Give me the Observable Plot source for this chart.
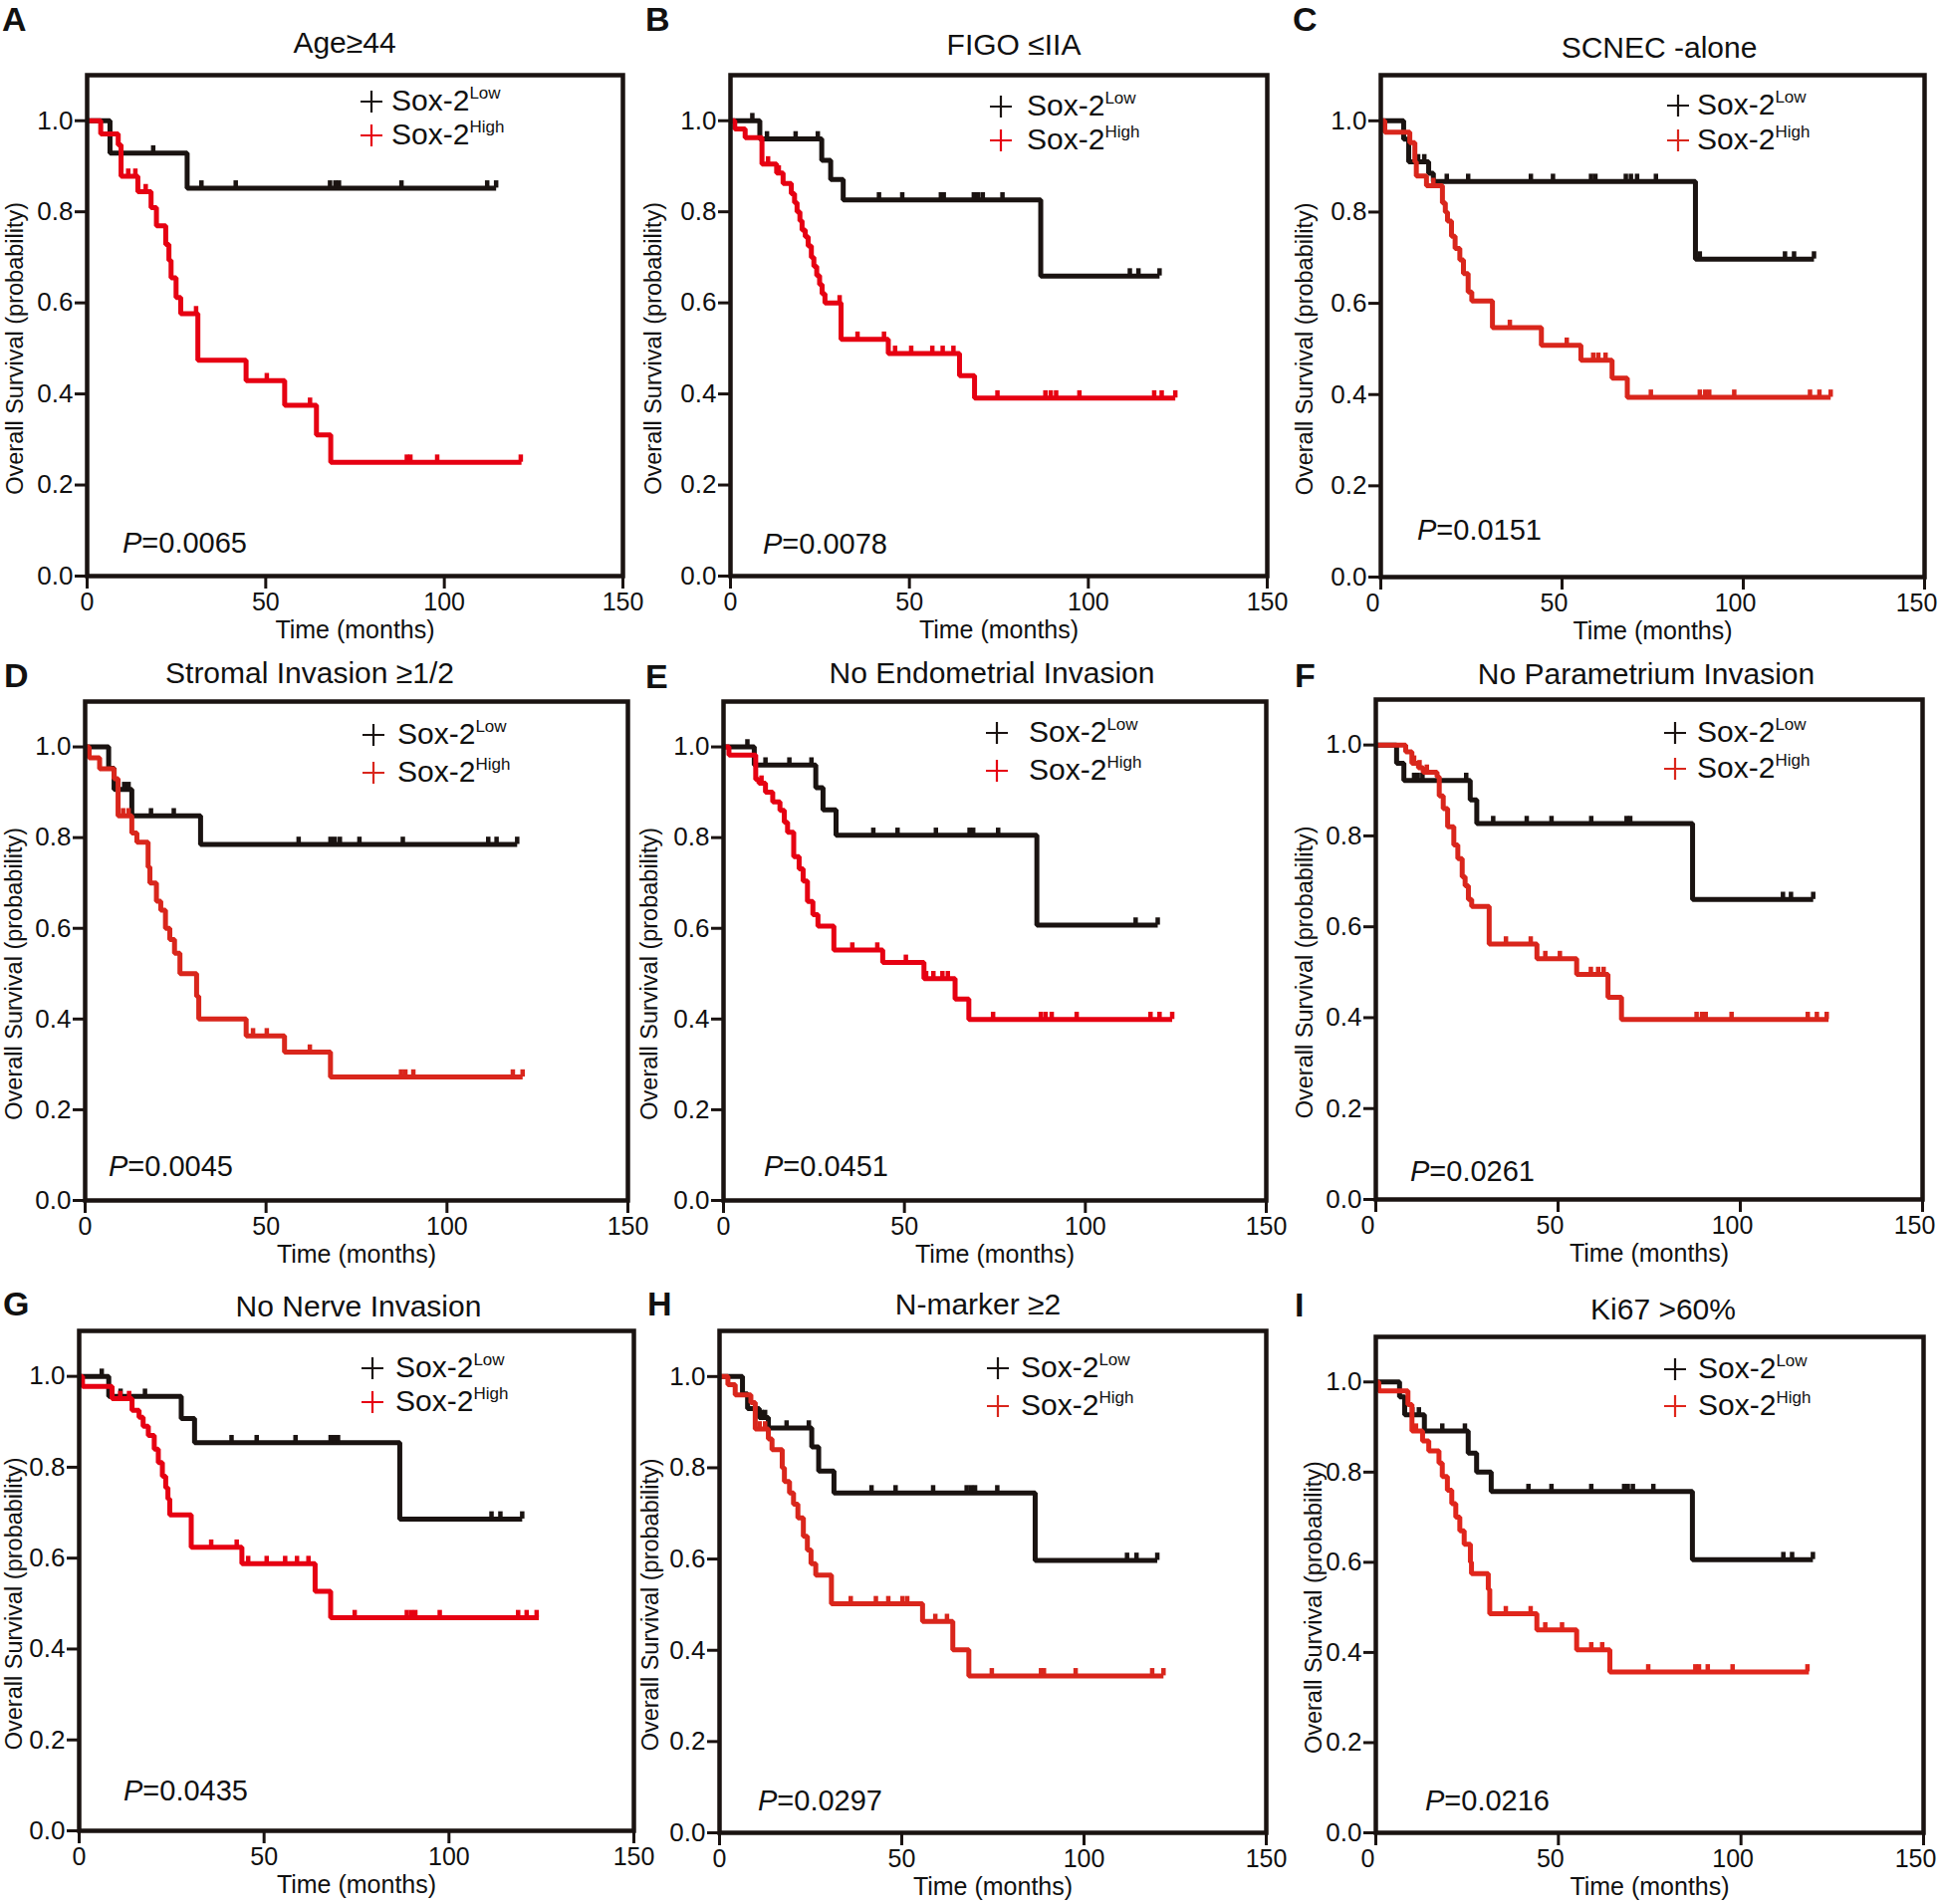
<!DOCTYPE html>
<html><head><meta charset="utf-8">
<script src="https://cdn.jsdelivr.net/npm/d3@7"></script>
<script src="https://cdn.jsdelivr.net/npm/@observablehq/plot@0.6"></script>
<style>
body{margin:0;background:#fff;}
#page{position:relative;width:1946px;height:1912px;background:#fff;overflow:hidden;font-family:"Liberation Sans",Arial,sans-serif;}
</style></head><body><div id="page"></div>
<script>
// ---------- DATA ----------
const panelLetters = ["A","B","C","D","E","F","G","H","I"];
const panelTitles = ["Age\u226544","FIGO \u2264IIA","SCNEC -alone","Stromal Invasion \u22651/2","No Endometrial Invasion","No Parametrium Invasion","No Nerve Invasion","N-marker \u22652","Ki67 >60%"];
const pValues = ["0.0065","0.0078","0.0151","0.0045","0.0451","0.0261","0.0435","0.0297","0.0216"];
const groupNames = ["Low","High"];
const xTicks = [0,50,100,150];
const yTicks = [0,0.2,0.4,0.6,0.8,1.0];
const xLabel = "Time (months)";
const yLabel = "Overall Survival (probability)";

// survival steps [time, survival after step]; censor times
const lowA = [[0,1],[6.4,0.929],[28,0.852],[114.5,0.852]];
const lowA_c = [18.5,32,41.6,68,69.5,70.5,88,112,114.5];
const highA = [[0,1],[3.8,0.971],[8.7,0.947],[9.5,0.878],[14.2,0.844],[17.9,0.809],[19.4,0.769],[22,0.728],[22.9,0.693],[23.5,0.655],[24.9,0.612],[26.2,0.576],[31,0.474],[44.5,0.429],[55.3,0.375],[64.2,0.31],[68.2,0.25],[121.6,0.25]];
const highA_c = [11.5,13.5,16.4,30.5,50.3,62.4,89.5,90.5,98,121.4];

const lowB = [[0,1],[8.2,0.96],[25.5,0.913],[28,0.871],[31.5,0.826],[86.7,0.659],[119.9,0.659]];
const lowB_c = [6.1,10.2,18.2,24.4,41.5,48,58.8,59.6,68,69.2,70.5,76,111.6,114,119.9];
const highB = [[0,1],[1.2,0.982],[4.1,0.963],[8.8,0.905],[12.9,0.885],[14.7,0.862],[17,0.84],[17.9,0.82],[18.6,0.8],[19.4,0.78],[20,0.76],[20.9,0.745],[21.7,0.725],[22.6,0.7],[23.3,0.68],[24.1,0.66],[24.9,0.64],[25.6,0.62],[26.4,0.6],[30.9,0.52],[44.1,0.489],[64,0.44],[68.2,0.391],[124.3,0.391]];
const highB_c = [10.5,13.5,30.5,35.5,42.9,46,50.5,56.4,59.3,62.3,74.6,88,89.5,91,97.5,118.4,120.5,124.3];

const lowC = [[0,1],[6.3,0.96],[7.7,0.91],[13.2,0.885],[14.5,0.867],[86.8,0.697],[119.5,0.697]];
const lowC_c = [10.3,12,18.2,24.1,41.4,47.5,58,59.2,67.6,69,70.7,75.9,88,111.5,114,119.5];
const highC = [[0,1],[1.1,0.975],[8,0.952],[9.4,0.91],[9.8,0.879],[12.6,0.858],[17,0.82],[17.8,0.8],[18.4,0.78],[19.5,0.747],[20.5,0.72],[21.8,0.695],[22.8,0.665],[24.1,0.625],[25.1,0.605],[30.8,0.547],[44.3,0.508],[55.2,0.475],[63.8,0.436],[68,0.394],[124.1,0.394]];
const highC_c = [14.5,35.6,51.3,58.6,60,62,74.5,88,89.5,90.6,97.5,118.4,121,124.1];

const lowD = [[0,1],[6.5,0.953],[8,0.906],[12.9,0.848],[31.9,0.785],[119.4,0.785]];
const lowD_c = [10.8,12,18.2,24.5,59,67.8,69,70.4,75.8,87.8,111.4,113.7,119.4];
const highD = [[0,1],[1.1,0.976],[4,0.952],[8,0.93],[9.1,0.848],[12.9,0.81],[14.3,0.79],[17.4,0.735],[17.9,0.7],[19.7,0.66],[20.9,0.64],[22.2,0.6],[23.4,0.575],[24.7,0.545],[26.2,0.5],[30.8,0.45],[31.4,0.4],[44.5,0.363],[55.1,0.327],[67.8,0.272],[120.9,0.272]];
const highD_c = [10.5,12,46.4,50.2,62.1,87.3,88.5,90.7,118.2,120.9];

const lowE = [[0,1],[8.5,0.96],[25.5,0.91],[27.5,0.861],[31.1,0.805],[86.6,0.607],[120,0.607]];
const lowE_c = [6.6,11.6,18.2,24.3,41.4,48.1,58.7,68,69,75.9,113.9,120];
const highE = [[0,1],[1.5,0.982],[8.9,0.928],[9.8,0.92],[11.6,0.9],[13.6,0.879],[15.6,0.86],[16.8,0.834],[17.7,0.812],[19.4,0.758],[20.9,0.731],[22,0.704],[23.2,0.659],[24.7,0.63],[26.1,0.605],[30.5,0.552],[44,0.525],[55.4,0.489],[64,0.444],[67.8,0.399],[124,0.399]];
const highE_c = [10.5,35.6,42.5,50.4,56,58,60.5,62,74.5,87.7,89,90.7,97.6,118,120.5,124];

const lowF = [[0,1],[5.7,0.96],[7.7,0.922],[25.9,0.879],[27.7,0.827],[86.9,0.66],[120,0.66]];
const lowF_c = [10.5,11.5,12.8,24.8,32.2,41.4,48.2,59.1,68.8,69.8,111.7,113.9,120];
const highF = [[0,1],[8.2,0.985],[9.9,0.96],[11.7,0.95],[13,0.94],[16.8,0.93],[17.4,0.888],[18.5,0.86],[19.7,0.82],[21.4,0.78],[22.5,0.75],[23.7,0.71],[24.5,0.69],[25.4,0.66],[26.3,0.645],[31.1,0.562],[44.2,0.53],[55.1,0.495],[63.7,0.445],[67.4,0.396],[124.2,0.396]];
const highF_c = [10.5,12,14,35.7,42.5,46.5,50.5,59,61,62.5,88,89.5,90.5,97.6,118.5,121,123.7];

const lowG = [[0,1],[8,0.956],[27.6,0.907],[31.2,0.854],[86.7,0.686],[119.8,0.686]];
const lowG_c = [6.1,11.2,17.8,41.2,48,58.5,68,69,70,111.5,113.9,119.8];
const highG = [[0,1],[0.9,0.978],[8.9,0.951],[14.3,0.925],[16.2,0.91],[17.3,0.89],[18.7,0.87],[20.3,0.84],[21.4,0.81],[22.5,0.78],[23.4,0.755],[24,0.73],[24.5,0.695],[30.3,0.624],[44,0.588],[63.8,0.527],[68,0.469],[124.3,0.469]];
const highG_c = [11.1,13.5,35.7,42.6,45.7,50.7,55.7,58.9,62,74.5,88.6,89.8,90.9,97.5,118.7,121,123.7];

const lowH = [[0,1],[6.3,0.962],[7.7,0.93],[10.9,0.91],[13.4,0.887],[25.3,0.846],[27.2,0.793],[31.4,0.745],[86.6,0.597],[120.1,0.597]];
const lowH_c = [11.5,12.5,18.4,24.5,41.7,48.3,58.6,67.8,69,70.1,76.2,111.8,114.4,120.1];
const highH = [[0,1],[2.3,0.982],[4.3,0.96],[8.6,0.943],[9.8,0.885],[13.4,0.863],[14.4,0.84],[17.2,0.8],[17.8,0.77],[19.2,0.745],[20.3,0.72],[21.5,0.69],[23,0.65],[24.1,0.62],[25.1,0.59],[26.4,0.565],[30.7,0.502],[55.7,0.463],[64,0.401],[68.4,0.344],[121.8,0.344]];
const highH_c = [11,12.5,36,42.9,46.3,50.2,51.5,59.2,62.4,74.7,88.2,89,97.7,118.7,121.8];

const lowI = [[0,1],[6.5,0.967],[7.9,0.927],[13.3,0.891],[25.3,0.842],[27.6,0.8],[31.6,0.757],[86.7,0.606],[119.7,0.606]];
const lowI_c = [10,11.8,18.2,24.4,41.8,48.1,59,68,69,70.4,76,111.6,114,119.7];
const highI = [[0,1],[0.8,0.98],[8.8,0.95],[9.9,0.891],[12.8,0.869],[14.5,0.847],[17.3,0.82],[18.2,0.79],[19.6,0.76],[20.8,0.73],[21.9,0.7],[23,0.67],[24.2,0.64],[25.9,0.6],[26.2,0.575],[30.8,0.54],[31.2,0.486],[44.1,0.45],[55,0.406],[64.1,0.357],[118.6,0.357]];
const highI_c = [11,35.6,42.4,46.4,51,59,62,74.6,87.5,88.5,90.9,97.7,118.2];

const lowCurves = [lowA,lowB,lowC,lowD,lowE,lowF,lowG,lowH,lowI];
const lowCensors = [lowA_c,lowB_c,lowC_c,lowD_c,lowE_c,lowF_c,lowG_c,lowH_c,lowI_c];
const highCurves = [highA,highB,highC,highD,highE,highF,highG,highH,highI];
const highCensors = [highA_c,highB_c,highC_c,highD_c,highE_c,highF_c,highG_c,highH_c,highI_c];

// ---------- LAYOUT / STYLE ----------
const frames = [[87,75,625,578],[733,75,1272,578],[1386,75,1932,579],[85,704,630,1205],[726,704,1271,1205],[1381,702,1930,1204],[79,1336,636,1838],[722,1336,1271,1840],[1381,1342,1931,1840]];
const yLabelDist = [72,77,76,71,74,71,65,69,62];
const xTickShift = [0,0,-8,0,0,-8,0,0,-8];
const legendPos = [[286,306,36,70],[272,298,41,75],[299,318,40,75],[290,314,43,81],[275,307,41,79],[301,323,43,79],[295,318,47,81],[280,303,47,85],[301,324,42,79]];
const pPos = [[36,-23],[33,-22],[37,-37],[24,-24],[41,-24],[35,-18],[45,-30],[39,-22],[50,-22]];
const titlePos = [[346,53],[1018,55],[1666,58],[311,686],[996,686],[1653,687],[360,1322],[982,1320],[1670,1325]];
const letterPos = [[2,31],[648,31],[1298,31],[4,690],[648,691],[1300,690],[3,1321],[650,1321],[1300,1322]];
const redColors = ["#e60012","#e60012","#d9261c","#d9261c","#e60012","#d9261c","#e60012","#d9261c","#e0261c"];
const black = "#1a1311";
const FONT = "'Liberation Sans', Arial, sans-serif";

function stepAt(steps, t) {
  let v = steps[0][1];
  for (const [x, y] of steps) { if (x <= t) v = y; else break; }
  return v;
}

const page = document.getElementById("page");
const mL = 100, mR = 30, mT = 8, mB = 74;
const yMid = (yTicks[0] + yTicks[yTicks.length - 1]) / 2;

panelLetters.forEach((letter, i) => {
  const [L, T, R, B] = frames[i];
  const red = redColors[i];
  const low = lowCurves[i].map(([t, s]) => ({t, s}));
  const high = highCurves[i].map(([t, s]) => ({t, s}));
  const lowC = lowCensors[i].map(t => ({t, s: stepAt(lowCurves[i], t)}));
  const highC = highCensors[i].map(t => ({t, s: stepAt(highCurves[i], t)}));
  const plot = Plot.plot({
    width: R - L + mL + mR,
    height: B - T + mT + mB,
    marginLeft: mL, marginRight: mR, marginTop: mT, marginBottom: mB,
    style: {fontFamily: FONT, fontSize: "25px", background: "transparent", color: "#111", overflow: "visible"},
    x: {domain: [0, 150]},
    y: {domain: [0, 1.1]},
    marks: [
      Plot.line(low, {x: "t", y: "s", curve: "step-after", stroke: black, strokeWidth: 5, strokeLinejoin: "miter", strokeLinecap: "butt"}),
      Plot.ruleX(lowC, {x: "t", y1: d => d.s, y2: d => d.s + 0.016, stroke: black, strokeWidth: 4.5}),
      Plot.line(high, {x: "t", y: "s", curve: "step-after", stroke: red, strokeWidth: 5, strokeLinejoin: "miter", strokeLinecap: "butt"}),
      Plot.ruleX(highC, {x: "t", y1: d => d.s, y2: d => d.s + 0.016, stroke: red, strokeWidth: 4.5}),
      Plot.frame({stroke: black, strokeWidth: 4.5}),
      // tick marks only
      Plot.axisX({ticks: xTicks, tickSize: 13, strokeWidth: 3, stroke: black, tickFormat: () => "", label: null}),
      // tick labels + axis label
      Plot.axisX({ticks: xTicks, tickSize: 0, tickPadding: 17, fontSize: 25, dx: xTickShift[i],
        label: xLabel, labelAnchor: "center", labelArrow: "none", labelOffset: 62}),
      Plot.axisY({ticks: yTicks, tickFormat: d => d.toFixed(1), tickSize: 12, strokeWidth: 3, stroke: black, tickPadding: 2, fontSize: 26, label: null}),
      Plot.text([{label: yLabel, y: yMid}], {text: "label", y: "y", frameAnchor: "left", dx: -yLabelDist[i], rotate: -90,
        textAnchor: "middle", lineAnchor: "middle", fontSize: 23.5, fill: "#111"})
    ]
  });
  plot.style.position = "absolute";
  plot.style.left = (L - mL) + "px";
  plot.style.top = (T - mT) + "px";
  page.appendChild(plot);
});

// ---------- text overlay (titles, letters, legends, P values) ----------
const svg = d3.select(page).append("svg")
  .attr("width", 1946).attr("height", 1912)
  .style("position", "absolute").style("left", "0px").style("top", "0px")
  .style("pointer-events", "none")
  .attr("font-family", FONT).attr("fill", "#111");

panelLetters.forEach((letter, i) => {
  const [L, T, R, B] = frames[i];
  const red = redColors[i];
  svg.append("text").attr("x", letterPos[i][0]).attr("y", letterPos[i][1])
    .attr("font-size", 34).attr("font-weight", "bold").text(letter);
  svg.append("text").attr("x", titlePos[i][0]).attr("y", titlePos[i][1])
    .attr("font-size", 30).attr("text-anchor", "middle").text(panelTitles[i]);
  const [pcx, tx, b1, b2] = legendPos[i];
  [[b1, black, groupNames[0]], [b2, red, groupNames[1]]].forEach(([b, col, name]) => {
    const cx = L + pcx, cy = T + b - 9;
    svg.append("path").attr("d", `M${cx - 11},${cy}H${cx + 11}M${cx},${cy - 11}V${cy + 11}`)
      .attr("stroke", col).attr("stroke-width", 2.2).attr("fill", "none");
    const t = svg.append("text").attr("x", L + tx).attr("y", T + b).attr("font-size", 30);
    t.append("tspan").text("Sox-2");
    t.append("tspan").attr("font-size", 17).attr("dy", -12).text(name);
  });
  const p = svg.append("text").attr("x", L + pPos[i][0]).attr("y", B + pPos[i][1]).attr("font-size", 29);
  p.append("tspan").attr("font-style", "italic").text("P");
  p.append("tspan").text("=" + pValues[i]);
});
</script>
</body></html>
